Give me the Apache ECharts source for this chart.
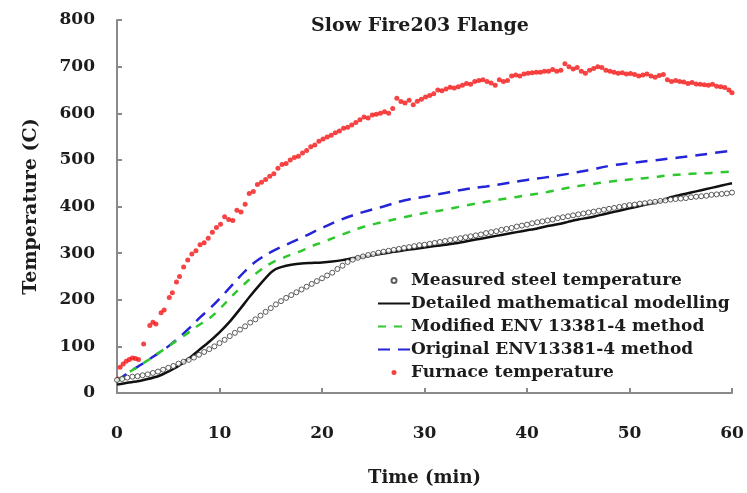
<!DOCTYPE html>
<html>
<head>
<meta charset="utf-8">
<title>Slow Fire203 Flange</title>
<script src="https://cdn.jsdelivr.net/npm/echarts@6/dist/echarts.min.js"></script>
<style>
  html, body { margin: 0; padding: 0; background: #ffffff; }
  #chart { width: 747px; height: 493px; }
</style>
</head>
<body>
<div id="chart"></div>
<script>
// Axis ticks
const timeTicks = [0, 10, 20, 30, 40, 50, 60];
const tempTicks = [0, 100, 200, 300, 400, 500, 600, 700, 800];

// Series names (legend order)
const seriesNames = [
  'Measured steel temperature',
  'Detailed mathematical modelling',
  'Modified ENV 13381-4 method',
  'Original ENV13381-4 method',
  'Furnace temperature'
];

// Measured steel temperature, [time (min), temperature (C)]
const measured = [
  [0, 28], [0.5, 30], [1, 33], [1.5, 35], [2, 36], [2.5, 38], [3, 40], [3.5, 43], [4, 46], [4.5, 50],
  [5, 54], [5.5, 58], [6, 63], [6.5, 67], [7, 71], [7.5, 76], [8, 82], [8.5, 88], [9, 94], [9.5, 100],
  [10, 107], [10.5, 114], [11, 122], [11.5, 129], [12, 136], [12.5, 143], [13, 151], [13.5, 158], [14, 166], [14.5, 174],
  [15, 182], [15.5, 190], [16, 197], [16.5, 204], [17, 210], [17.5, 216], [18, 222], [18.5, 228], [19, 234], [19.5, 240],
  [20, 246], [20.5, 252], [21, 258], [21.5, 266], [22, 273], [22.5, 281], [23, 286], [23.5, 290], [24, 293], [24.5, 296],
  [25, 298], [25.5, 301], [26, 303], [26.5, 305], [27, 307], [27.5, 309], [28, 311], [28.5, 313], [29, 315], [29.5, 317],
  [30, 318], [30.5, 320], [31, 322], [31.5, 324], [32, 326], [32.5, 328], [33, 330], [33.5, 332], [34, 334], [34.5, 336],
  [35, 338], [35.5, 340], [36, 343], [36.5, 345], [37, 347], [37.5, 350], [38, 352], [38.5, 354], [39, 357], [39.5, 359],
  [40, 361], [40.5, 364], [41, 366], [41.5, 368], [42, 370], [42.5, 372], [43, 375], [43.5, 377], [44, 379], [44.5, 381],
  [45, 383], [45.5, 385], [46, 387], [46.5, 389], [47, 391], [47.5, 393], [48, 395], [48.5, 397], [49, 399], [49.5, 401],
  [50, 403], [50.5, 404], [51, 406], [51.5, 407], [52, 409], [52.5, 410], [53, 412], [53.5, 413], [54, 415], [54.5, 416],
  [55, 417], [55.5, 418], [56, 420], [56.5, 421], [57, 422], [57.5, 423], [58, 425], [58.5, 426], [59, 427], [59.5, 428],
  [60, 430]
];

// Detailed mathematical modelling
const detailed = [
  [0, 18], [1, 22], [2, 25], [3, 30], [4, 36], [5, 46], [6, 58], [7, 74], [8, 92], [9, 110],
  [10, 130], [11, 153], [12, 180], [13, 208], [14, 234], [15, 258], [15.5, 266], [16, 270], [17, 275], [18, 278],
  [19, 279], [20, 280], [21, 282], [22, 285], [23, 289], [24, 292], [25, 296], [26, 299], [27, 303], [28, 306],
  [29, 309], [30, 312], [31, 315], [32, 318], [33, 321], [34, 325], [35, 329], [36, 333], [37, 337], [38, 341],
  [39, 345], [40, 349], [41, 353], [42, 358], [43, 362], [44, 367], [45, 372], [46, 376], [47, 381], [48, 386],
  [49, 391], [50, 396], [51, 401], [52, 406], [53, 411], [54, 420], [55, 425], [56, 430], [57, 435], [58, 440],
  [59, 445], [60, 450]
];

// Modified ENV 13381-4 method
const modified = [
  [0, 25], [1, 42], [2, 56], [3, 70], [4, 85], [5, 100], [6, 115], [7, 130], [8, 146], [9, 160],
  [10, 180], [11, 203], [12, 225], [13, 245], [14, 264], [15, 278], [16, 288], [17, 297], [18, 305], [19, 315],
  [20, 323], [22, 340], [24, 356], [26, 367], [28, 377], [30, 386], [32, 393], [34, 402], [36, 410], [38, 417],
  [40, 424], [42, 431], [44, 440], [46, 447], [48, 453], [50, 458], [52, 462], [54, 467], [56, 470], [58, 472],
  [60, 475]
];

// Original ENV13381-4 method
const original = [
  [0, 25], [1, 42], [2, 56], [3, 70], [4, 85], [5, 100], [6, 118], [7, 138], [8, 160], [9, 180],
  [10, 202], [11, 226], [12, 250], [13, 272], [14, 289], [15, 302], [16, 313], [17, 323], [18, 333], [20, 354],
  [22, 373], [24, 388], [26, 400], [28, 413], [30, 421], [32, 429], [34, 437], [36, 443], [38, 450], [40, 457],
  [42, 463], [44, 470], [46, 478], [48, 487], [50, 493], [52, 498], [54, 503], [56, 508], [58, 514], [60, 520]
];

// Furnace temperature
const furnace = [
  [0.1, 30], [0.3, 55], [0.6, 62], [0.9, 68], [1.2, 72], [1.5, 75], [1.8, 74], [2.1, 72], [2.6, 105], [3.2, 145],
  [3.5, 152], [3.8, 148], [4.3, 172], [4.6, 178], [5.1, 205], [5.4, 215], [5.8, 238], [6.1, 250], [6.5, 270], [6.9, 285],
  [7.3, 298], [7.7, 305], [8.1, 318], [8.5, 322], [8.9, 332], [9.3, 345], [9.7, 355], [10.1, 362], [10.5, 378], [10.9, 372],
  [11.3, 370], [11.7, 392], [12.1, 388], [12.5, 405], [12.9, 428], [13.3, 432], [13.7, 447], [14.1, 452], [14.5, 458], [14.9, 465],
  [15.3, 470], [15.7, 482], [16.1, 490], [16.5, 492], [16.9, 500], [17.3, 505], [17.7, 508], [18.1, 515], [18.5, 520], [18.9, 528],
  [19.3, 532], [19.7, 540], [20.1, 545], [20.5, 549], [20.9, 553], [21.3, 558], [21.7, 562], [22.1, 568], [22.5, 570], [22.9, 575],
  [23.3, 580], [23.7, 586], [24.1, 592], [24.5, 590], [24.9, 596], [25.3, 598], [25.7, 600], [26.1, 603], [26.5, 600], [26.9, 610],
  [27.3, 632], [27.7, 625], [28.1, 622], [28.5, 628], [28.9, 618], [29.3, 626], [29.7, 630], [30.1, 635], [30.5, 638], [30.9, 642],
  [31.3, 650], [31.7, 648], [32.1, 652], [32.5, 656], [32.9, 654], [33.3, 657], [33.7, 660], [34.1, 664], [34.5, 662], [34.9, 668],
  [35.3, 670], [35.7, 672], [36.1, 668], [36.5, 665], [36.9, 660], [37.3, 672], [37.7, 668], [38.1, 670], [38.5, 680], [38.9, 682],
  [39.3, 680], [39.7, 684], [40.1, 686], [40.5, 687], [40.9, 688], [41.3, 688], [41.7, 690], [42.1, 690], [42.5, 694], [42.9, 690],
  [43.3, 692], [43.7, 706], [44.1, 700], [44.5, 695], [44.9, 698], [45.3, 690], [45.7, 686], [46.1, 692], [46.5, 696], [46.9, 700],
  [47.3, 698], [47.7, 692], [48.1, 690], [48.5, 688], [48.9, 686], [49.3, 687], [49.7, 684], [50.1, 685], [50.5, 683], [50.9, 680],
  [51.3, 682], [51.7, 684], [52.1, 680], [52.5, 677], [52.9, 681], [53.3, 683], [53.7, 672], [54.1, 668], [54.5, 670], [54.9, 668],
  [55.3, 667], [55.7, 664], [56.1, 666], [56.5, 663], [56.9, 662], [57.3, 661], [57.7, 660], [58.1, 662], [58.5, 658], [58.9, 657],
  [59.3, 655], [59.7, 650], [60, 644]
];

const FONT = '"DejaVu Serif", "Liberation Serif", serif';
const INK = '#1c1c1c';
const AXIS_GREY = '#8a8a8a';

// Line entries in the legend show only their stroke, no centre marker
const hiddenMarker = { color: 'rgba(0,0,0,0)', borderWidth: 0 };

const chart = echarts.init(document.getElementById('chart'), null, { renderer: 'canvas' });

chart.setOption({
  animation: false,
  backgroundColor: '#ffffff',
  title: {
    text: 'Slow Fire203 Flange',
    left: 415,
    top: 12,
    textAlign: 'center',
    textStyle: { fontFamily: FONT, fontWeight: 'bold', fontSize: 19, color: INK }
  },
  grid: { left: 117, right: 15, top: 20, bottom: 100, containLabel: false },
  legend: {
    orient: 'vertical',
    left: 372,
    top: 267,
    itemWidth: 32,
    itemHeight: 5,
    itemGap: 6,
    data: [
      { name: seriesNames[0] },
      { name: seriesNames[1], itemStyle: hiddenMarker },
      { name: seriesNames[2], itemStyle: hiddenMarker },
      { name: seriesNames[3], itemStyle: hiddenMarker },
      { name: seriesNames[4] }
    ],
    textStyle: { fontFamily: FONT, fontWeight: 'bold', fontSize: 17, color: INK, padding: [0, 0, 0, -4] }
  },
  xAxis: {
    type: 'value',
    min: timeTicks[0],
    max: timeTicks[timeTicks.length - 1],
    interval: timeTicks[1] - timeTicks[0],
    name: 'Time (min)',
    nameLocation: 'middle',
    nameGap: 76,
    nameTextStyle: { fontFamily: FONT, fontWeight: 'bold', fontSize: 18, color: INK },
    axisLine: { onZero: false, lineStyle: { color: AXIS_GREY, width: 2 } },
    axisTick: { inside: true, length: 5, lineStyle: { color: AXIS_GREY, width: 2 } },
    axisLabel: { margin: 32, fontFamily: FONT, fontWeight: 'bold', fontSize: 17, color: INK },
    splitLine: { show: false }
  },
  yAxis: {
    type: 'value',
    min: tempTicks[0],
    max: tempTicks[tempTicks.length - 1],
    interval: tempTicks[1] - tempTicks[0],
    name: 'Temperature (C)',
    nameLocation: 'middle',
    nameGap: 76,
    nameTextStyle: { fontFamily: FONT, fontWeight: 'bold', fontSize: 19, color: INK },
    axisLine: { show: true, lineStyle: { color: AXIS_GREY, width: 2 } },
    axisTick: { show: true, inside: true, length: 5, lineStyle: { color: AXIS_GREY, width: 2 } },
    axisLabel: { margin: 22, fontFamily: FONT, fontWeight: 'bold', fontSize: 17, color: INK },
    splitLine: { show: false }
  },
  series: [
    {
      name: seriesNames[4],
      type: 'scatter',
      data: furnace,
      symbol: 'circle',
      symbolSize: 5,
      itemStyle: { color: '#f41414' },
      z: 2
    },
    {
      name: seriesNames[3],
      type: 'line',
      data: original,
      symbol: 'none',
      smooth: true,
      lineStyle: { color: '#2424d8', width: 2.5, type: [12, 8] },
      itemStyle: { color: '#2424d8' },
      z: 3
    },
    {
      name: seriesNames[2],
      type: 'line',
      data: modified,
      symbol: 'none',
      smooth: true,
      lineStyle: { color: '#2ec82e', width: 2.5, type: [8, 8] },
      itemStyle: { color: '#2ec82e' },
      z: 3
    },
    {
      name: seriesNames[1],
      type: 'line',
      data: detailed,
      symbol: 'none',
      smooth: 0.2,
      lineStyle: { color: '#111111', width: 2.5 },
      itemStyle: { color: '#111111' },
      z: 4
    },
    {
      name: seriesNames[0],
      type: 'scatter',
      data: measured,
      symbol: 'circle',
      symbolSize: 5,
      itemStyle: { color: '#ffffff', borderColor: '#333333', borderWidth: 1 },
      z: 5
    }
  ]
});
</script>
</body>
</html>
